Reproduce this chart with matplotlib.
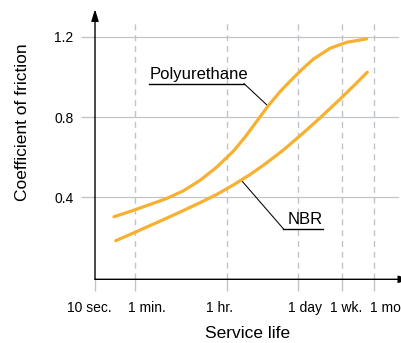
import numpy as np
import matplotlib
matplotlib.use("Agg")
import matplotlib.pyplot as plt
from matplotlib.ticker import NullLocator
from matplotlib.transforms import ScaledTranslation

# ---------------- data ----------------
tick_seconds = [10, 60, 3600, 86400, 604800, 2592000]
tick_labels = ['10 sec.', '1 min.', '1 hr.', '1 day', '1 wk.', '1 mo']
y_ticks = [0.4, 0.8, 1.2]
y_tick_labels = ['0.4', '0.8', '1.2']

pu_seconds = [23.3, 49.9, 116, 245, 514, 1083, 2283, 4788, 8072, 13190, 22230,
              38480, 60150, 102700, 170100, 358400, 755000, 1843000]
pu_cof = [0.304, 0.332, 0.365, 0.395, 0.433, 0.485, 0.551, 0.630, 0.700, 0.774,
          0.853, 0.926, 0.978, 1.037, 1.088, 1.142, 1.172, 1.189]

nbr_seconds = [25.2, 49.9, 116, 245, 514, 1083, 2283, 4788, 10090, 18260, 38480,
               60150, 126700, 236600, 559900, 1179000, 1893000]
nbr_cof = [0.185, 0.218, 0.260, 0.297, 0.335, 0.374, 0.415, 0.462, 0.514, 0.560,
           0.623, 0.664, 0.736, 0.799, 0.889, 0.970, 1.023]

# ---------------- style ----------------
plt.rcParams['font.family'] = ['Liberation Sans', 'DejaVu Sans']
orange = '#F7B030'
grid_c = '#bfc4c9'

fig = plt.figure(figsize=(4.01, 3.43), dpi=100)
ax = fig.add_axes([95 / 401, 1 - 279.3 / 343, 306 / 401, 270 / 343])
ax.set_facecolor('none')
ax.set_xscale('log')
ax.set_xlim(10, 10 ** (1 + 306 / 51.6))
ax.set_ylim(-0.007, 1.336)
for s in ax.spines.values():
    s.set_visible(False)

# ticks
ax.set_xticks(tick_seconds, tick_labels)
ax.xaxis.set_minor_locator(NullLocator())
ax.tick_params(axis='x', length=8.6, width=1, color=grid_c, pad=7.2, labelsize=10)
label_shift_px = [-5.2, 11.6, -7.7, 6.6, 4.3, 10.6]
for lab, dx in zip(ax.get_xticklabels(), label_shift_px):
    lab.set_transform(lab.get_transform() + ScaledTranslation(dx / 100, 0, fig.dpi_scale_trans))

ax.set_yticks(y_ticks, y_tick_labels)
ax.tick_params(axis='y', length=10.3, width=1, color=grid_c, pad=5.2, labelsize=10)

# grid lines
for y in y_ticks:
    ax.axhline(y, 0, 0.99, color=grid_c, lw=0.85, zorder=1)
for s in tick_seconds[1:]:
    ax.axvline(s, 0, 0.96, color=grid_c, lw=1.0, dashes=(4.3, 3.5), zorder=1)

# axis arrows
arrow = dict(arrowstyle='-|>,head_length=0.7,head_width=0.22', color='black',
             lw=1.0, shrinkA=0, shrinkB=0)
ax.annotate('', xy=(0, 1), xytext=(0, 0), xycoords='axes fraction', arrowprops=arrow,
            annotation_clip=False)
ax.annotate('', xy=(1.03, 0), xytext=(0, 0), xycoords='axes fraction', arrowprops=arrow,
            annotation_clip=False)

# curves
ax.plot(pu_seconds, pu_cof, color=orange, lw=2.3, solid_capstyle='round',
        solid_joinstyle='round', zorder=3)
ax.plot(nbr_seconds, nbr_cof, color=orange, lw=2.3, solid_capstyle='round',
        solid_joinstyle='round', zorder=3)

# callouts
ax.text(112.7, 0.9896, 'Polyurethane', fontsize=12, ha='left', va='baseline')
ax.plot([111.4, 7727], [0.9662, 0.9662], color='black', lw=1.0, clip_on=False)
ax.plot([7727, 22540], [0.9662, 0.855], color='black', lw=0.75, clip_on=False)

ax.text(53330, 0.2667, 'NBR', fontsize=12, ha='left', va='baseline')
ax.plot([44570, 258800], [0.2448, 0.2448], color='black', lw=1.0, clip_on=False)
ax.plot([44570, 6966], [0.2448, 0.4836], color='black', lw=0.75, clip_on=False)

# axis titles
fig.text(247.5 / 401, 1 - 338 / 343, 'Service life', ha='center', va='baseline',
         fontsize=12.5)
fig.text(23 / 401, 1 - 122.5 / 343, 'Coefficient of friction', rotation=90,
         ha='center', va='center', fontsize=12.5)

fig.savefig('out.png', dpi=100)
